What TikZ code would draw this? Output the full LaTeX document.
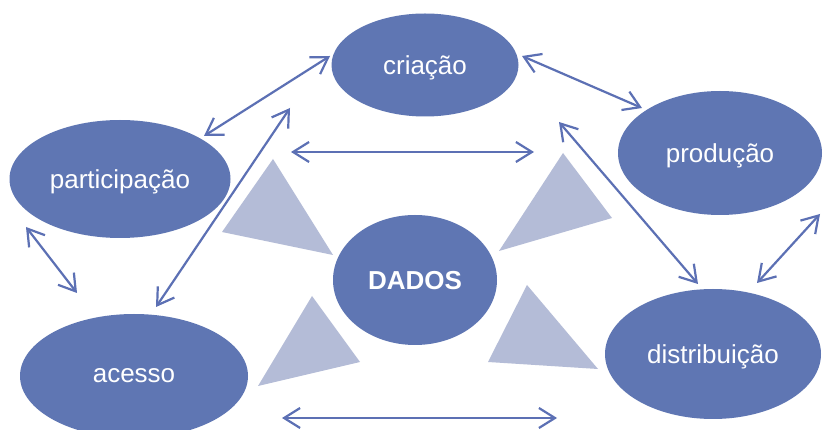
\documentclass[tikz,border=0pt]{standalone}
\usepackage{fontspec}
\setmainfont{Liberation Sans}
\usetikzlibrary{shapes.geometric,arrows.meta}
\definecolor{blob}{HTML}{5F76B3}
\definecolor{wedge}{HTML}{B4BCD7}
\definecolor{link}{HTML}{5C70B4}
\tikzset{
  blobnode/.style={ellipse,fill=blob,draw=none,inner sep=0pt,text depth=0pt,text=white,font=\fontsize{26}{30}\selectfont},
  wedgeshape/.style={fill=wedge,draw=none},
  linkarrow/.style={draw=link,line width=2.2pt,{Straight Barb[length=16pt,width=20pt]}-{Straight Barb[length=16pt,width=20pt]}}
}
\begin{document}
\begin{tikzpicture}[x=1pt,y=-1pt]
\useasboundingbox (0,0) rectangle (823,430);
\fill[white] (0,0) rectangle (823,430);

% pale wedges around the centre
\fill[wedgeshape] (273,159) -- (222,232) -- (333,255) -- cycle;
\fill[wedgeshape] (312,296) -- (360,362) -- (258,386) -- cycle;
\fill[wedgeshape] (563,153) -- (612,218) -- (499,251) -- cycle;
\fill[wedgeshape] (527,285) -- (598,369) -- (488,362) -- cycle;

% stages of the cycle
\node[blobnode,minimum width=187pt,minimum height=103pt] (criacao) at (425,65) {criação};
\node[blobnode,minimum width=221pt,minimum height=118pt] (participacao) at (120,179) {participação};
\node[blobnode,minimum width=204pt,minimum height=124pt] (producao) at (720,153) {produção};
\node[blobnode,minimum width=164pt,minimum height=130pt,font=\fontsize{26}{30}\selectfont\bfseries] (dados) at (415,280) {DADOS};
\node[blobnode,minimum width=228pt,minimum height=124pt] (acesso) at (134,376) {acesso};
\node[blobnode,minimum width=216pt,minimum height=130pt] (distribuicao) at (713,354) {distribuição};

% arrow end points
\coordinate (a1) at (330,56);  \coordinate (b1) at (204,136);
\coordinate (a2) at (290,108); \coordinate (b2) at (156,307);
\coordinate (a3) at (291,152); \coordinate (b3) at (534,152);
\coordinate (a4) at (522,56);  \coordinate (b4) at (642,108);
\coordinate (a5) at (559,122); \coordinate (b5) at (698,284);
\coordinate (a6) at (820,214); \coordinate (b6) at (757,283);
\coordinate (a7) at (26,227);  \coordinate (b7) at (77,293);
\coordinate (a8) at (282,418); \coordinate (b8) at (557,418);

\draw[linkarrow] (a1) -- (b1);
\draw[linkarrow] (a2) -- (b2);
\draw[linkarrow] (a3) -- (b3);
\draw[linkarrow] (a4) -- (b4);
\draw[linkarrow] (a5) -- (b5);
\draw[linkarrow] (a6) -- (b6);
\draw[linkarrow] (a7) -- (b7);
\draw[linkarrow] (a8) -- (b8);
\end{tikzpicture}
\end{document}
